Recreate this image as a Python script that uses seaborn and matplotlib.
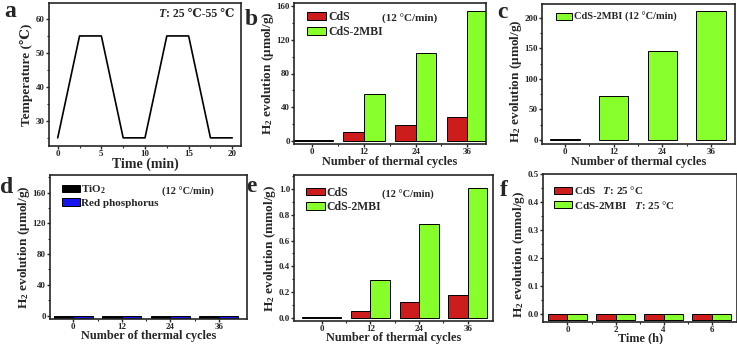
import matplotlib
matplotlib.use("Agg")
import matplotlib.pyplot as plt
from matplotlib.ticker import MultipleLocator, FixedLocator
import seaborn as sns
import pandas as pd

sns.set_style("ticks")
plt.rcParams['font.family'] = ['Liberation Serif', 'DejaVu Serif']
plt.rcParams['font.weight'] = 'bold'
plt.rcParams['axes.labelweight'] = 'bold'
plt.rcParams['mathtext.fontset'] = 'custom'
plt.rcParams['mathtext.rm'] = 'Liberation Serif:bold'
plt.rcParams['mathtext.bf'] = 'Liberation Serif:bold'
plt.rcParams['mathtext.it'] = 'Liberation Serif:italic:bold'
plt.rcParams['mathtext.default'] = 'bf'

# ---- data ----
time_min = [0, 2.5, 5, 7.5, 10, 12.5, 15, 17.5, 20]
temperature = [25, 55, 55, 25, 25, 55, 55, 25, 25]

cycles = ["0", "12", "24", "36"]
b_cds = [1, 10, 19, 28]
b_mbi = [1, 56, 104, 154]
c_mbi = [1, 72, 146, 211]
d_tio2 = [-3.5, -3.5, -3.5, -3.5]
d_rp = [-3.5, -3.5, -3.5, -3.5]
e_cds = [0.005, 0.055, 0.12, 0.18]
e_mbi = [0.005, 0.29, 0.73, 1.01]
hours = ["0", "2", "4", "6"]
f_cds = [-0.02, -0.02, -0.02, -0.02]
f_mbi = [-0.02, -0.02, -0.02, -0.02]

RED = "#CC1C1C"
GREEN = "#86FF2A"
BLUE = "#1414EE"
BLACK = "#000000"

W, H = 737, 344
fig = plt.figure(figsize=(W / 100, H / 100), dpi=100)

def ax_at(l, r, t, b):
    return fig.add_axes([l / W, 1 - b / H, (r - l) / W, (b - t) / H])

def style(ax):
    for s in ax.spines.values():
        s.set_linewidth(1.2)
        s.set_visible(True)
    ax.tick_params(axis='both', which='major', direction='out', length=2, width=1,
                   labelsize=6.5, pad=0.8)
    ax.tick_params(axis='both', which='minor', direction='out', length=1.2, width=0.8)
    for lab in ax.get_xticklabels() + ax.get_yticklabels():
        lab.set_fontweight('bold')

def long_df(cats, series):
    rows = []
    for name, vals in series:
        for c, v in zip(cats, vals):
            rows.append({"cat": c, "val": v, "series": name})
    return pd.DataFrame(rows)

def bar_panel(ax, cats, series, colors, width, ylim, ymaj, ymin, xlim):
    df = long_df(cats, series)
    sns.barplot(data=df, x="cat", y="val", hue="series", palette=colors,
                width=width, edgecolor="black", linewidth=0.7, ax=ax,
                saturation=1, errorbar=None)
    ax.set_ylim(*ylim)
    ax.set_xlim(*xlim)
    ax.yaxis.set_major_locator(MultipleLocator(ymaj))
    ax.yaxis.set_minor_locator(MultipleLocator(ymin))
    ax.xaxis.set_minor_locator(FixedLocator([0.5, 1.5, 2.5]))
    ax.set_xlabel("")
    ax.set_ylabel("")
    style(ax)

def legend(ax, x, y, fs=8.5):
    leg = ax.legend(loc="upper left", bbox_to_anchor=(x, y), frameon=False,
                    fontsize=fs, handlelength=1.6, handleheight=0.65,
                    handletextpad=0.15, labelspacing=0.2, borderaxespad=0,
                    borderpad=0)
    for t in leg.get_texts():
        t.set_fontweight('bold')
    return leg

ylab_umol = r"H$_2$ evolution (μmol/g)"
ylab_mmol = r"H$_2$ evolution (mmol/g)"
XL = 8.8
YL = 9.5
YP = 0.8

# ---- a ----
axa = ax_at(49, 241, 3, 146)
sns.lineplot(x=time_min, y=temperature, color="black", linewidth=1.2, ax=axa)
axa.set_xlim(-1, 21)
axa.set_ylim(22.6, 64.7)
axa.xaxis.set_major_locator(MultipleLocator(5))
axa.xaxis.set_minor_locator(MultipleLocator(2.5))
axa.yaxis.set_major_locator(MultipleLocator(10))
axa.yaxis.set_minor_locator(MultipleLocator(5))
style(axa)
axa.set_xlabel("Time (min)", fontsize=10, labelpad=0)
axa.set_ylabel("Temperature (℃)", fontsize=YL, labelpad=2.5)
axa.text(0.57, 0.92, "T", transform=axa.transAxes, fontsize=8.5,
         fontweight='bold', fontstyle='italic', ha='left', va='center')
axa.annotate(": 25 ℃-55 ℃", xy=(0.57, 0.92), xycoords='axes fraction',
             xytext=(5.2, 0), textcoords='offset points', fontsize=8.5,
             fontweight='bold', ha='left', va='center')

# ---- b ----
axb = ax_at(294, 486, 3, 144)
bar_panel(axb, cycles, [("CdS", b_cds), ("CdS-2MBI", b_mbi)], [RED, GREEN], 0.8,
          (-4, 164), 40, 20, (-0.35, 3.36))
legend(axb, 0.07, 0.94)
axb.text(0.46, 0.89, "(12 °C/min)", transform=axb.transAxes, fontsize=8,
         fontweight='bold', ha='left', va='center')
axb.set_xlabel("Number of thermal cycles", fontsize=XL, labelpad=0)
axb.set_ylabel(ylab_umol, fontsize=YL, labelpad=YP)

# ---- c ----
axc = ax_at(542, 735, 4, 144)
bar_panel(axc, cycles, [("CdS-2MBI (12 °C/min)", c_mbi)], [GREEN], 0.6,
          (-7, 223), 50, 25, (-0.47, 3.49))
legend(axc, 0.07, 0.94, fs=7.5)
axc.set_xlabel("Number of thermal cycles", fontsize=XL, labelpad=0)
axc.set_ylabel(ylab_umol, fontsize=YL, labelpad=YP)
axc.yaxis.label.set_y(0.45)

# ---- d ----
axd = ax_at(50, 247, 175, 319)
bar_panel(axd, cycles, [("TiO$_2$", d_tio2), ("Red phosphorus", d_rp)], [BLACK, BLUE], 0.8,
          (-4.5, 183), 40, 20, (-0.48, 3.58))
legend(axd, 0.06, 0.94, fs=8)
axd.text(0.57, 0.88, "(12 °C/min)", transform=axd.transAxes, fontsize=7.5,
         fontweight='bold', ha='left', va='center')
axd.set_xlabel("Number of thermal cycles", fontsize=XL, labelpad=-0.5)
axd.set_ylabel(ylab_umol, fontsize=YL, labelpad=YP)

# ---- e ----
axe = ax_at(294, 493, 175, 321)
bar_panel(axe, cycles, [("CdS", e_cds), ("CdS-2MBI", e_mbi)], [RED, GREEN], 0.8,
          (-0.026, 1.11), 0.2, 0.1, (-0.57, 3.52))
legend(axe, 0.06, 0.92)
axe.text(0.44, 0.86, "(12 °C/min)", transform=axe.transAxes, fontsize=7.5,
         fontweight='bold', ha='left', va='center')
axe.set_xlabel("Number of thermal cycles", fontsize=XL, labelpad=-0.5)
axe.set_ylabel(ylab_mmol, fontsize=YL, labelpad=YP)

# ---- f ----
axf = ax_at(543, 737, 174, 322)
bar_panel(axf, hours, [("CdS   $\\mathit{T}$: 25 °C", f_cds), ("CdS-2MBI   $\\mathit{T}$: 25 °C", f_mbi)],
          [RED, GREEN], 0.8, (-0.027, 0.5), 0.1, 0.05, (-0.51, 3.53))
legend(axf, 0.057, 0.93, fs=8)
axf.set_xlabel("Time (h)", fontsize=XL, labelpad=-1.5)
axf.set_ylabel(ylab_mmol, fontsize=YL, labelpad=YP)
axf.yaxis.label.set_y(0.46)

# ---- panel letters ----
for lab, x, y in [("a", 4, 17), ("b", 245, 25), ("c", 497, 18),
                  ("d", 0, 193), ("e", 246, 192), ("f", 500, 196)]:
    fig.text(x / W, 1 - y / H, lab, fontsize=17, fontweight='bold',
             ha='left', va='baseline', family='Liberation Serif')

fig.savefig("out.png", dpi=100)
